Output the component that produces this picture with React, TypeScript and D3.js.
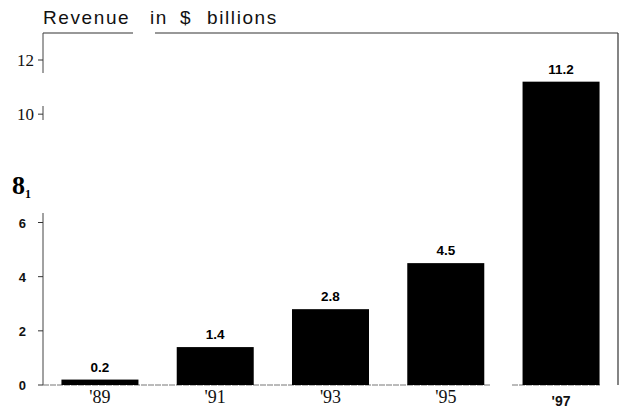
import { useEffect, useRef } from "react"
import * as d3 from "d3"

const years = ["'89", "'91", "'93", "'95", "'97"]
const revenue = [0.2, 1.4, 2.8, 4.5, 11.2]
const valueLabels = ["0.2", "1.4", "2.8", "4.5", "11.2"]
const serifTicks = [12, 10]
const sansTicks = [6, 4, 2, 0]
const titleWords = ["Revenue", "in", "$", "billions"]

const W = 622
const H = 412
const SANS = "'Liberation Sans', Arial, sans-serif"
const SERIF = "'Liberation Serif', 'Times New Roman', serif"

export default function App() {
  const svgRef = useRef<SVGSVGElement>(null)

  useEffect(() => {
    const svg = d3.select(svgRef.current!)
    svg.selectAll("*").remove()

    const left = 43
    const right = 618
    const top = 33
    const x = d3.scaleBand<string>().domain(years).range([left, right]).paddingInner(0.332).paddingOuter(0.16)
    const y = d3.scaleLinear().domain([0, 12]).range([385, 60])
    const y0 = y(0)

    // title, words spread out like the scan
    const wordX = [43, 150, 180, 207]
    svg
      .append("g")
      .selectAll("text")
      .data(titleWords)
      .enter()
      .append("text")
      .attr("x", (_, i) => wordX[i])
      .attr("y", 24)
      .attr("font-family", SANS)
      .attr("font-size", 19)
      .attr("letter-spacing", 1.6)
      .attr("fill", "#111")
      .text((d) => d)

    // frame: top (broken), right
    const frame = svg.append("g").attr("stroke", "#333").attr("stroke-width", 1.2).attr("fill", "none")
    frame.append("line").attr("x1", left).attr("x2", 133).attr("y1", top).attr("y2", top)
    frame.append("line").attr("x1", 155).attr("x2", right).attr("y1", top).attr("y2", top)
    frame.append("line").attr("x1", right).attr("x2", right).attr("y1", top).attr("y2", y0)

    // left axis, broken
    const axisSegs: [number, number][] = [
      [top, 73],
      [106, 120],
      [213, y0],
    ]
    svg
      .append("g")
      .selectAll("line")
      .data(axisSegs)
      .enter()
      .append("line")
      .attr("x1", left)
      .attr("x2", left)
      .attr("y1", (d) => d[0])
      .attr("y2", (d) => d[1])
      .attr("stroke", "#444")
      .attr("stroke-width", 1)

    // ticks
    const allTicks = [...serifTicks, ...sansTicks]
    svg
      .append("g")
      .selectAll("line")
      .data(allTicks)
      .enter()
      .append("line")
      .attr("x1", left - 5)
      .attr("x2", left)
      .attr("y1", (d) => y(d))
      .attr("y2", (d) => y(d))
      .attr("stroke", "#333")
      .attr("stroke-width", 1)

    svg
      .append("g")
      .selectAll("text")
      .data(serifTicks)
      .enter()
      .append("text")
      .attr("x", 34)
      .attr("y", (d) => y(d) + 5.5)
      .attr("text-anchor", "end")
      .attr("font-family", SERIF)
      .attr("font-size", 17)
      .attr("fill", "#111")
      .text((d) => d)

    svg
      .append("g")
      .selectAll("text")
      .data(sansTicks)
      .enter()
      .append("text")
      .attr("x", 26)
      .attr("y", (d) => y(d) + 5)
      .attr("text-anchor", "end")
      .attr("font-family", SANS)
      .attr("font-weight", "bold")
      .attr("font-size", 13)
      .attr("fill", "#111")
      .text((d) => d)

    // odd "8" label from the scan
    const eight = svg
      .append("text")
      .attr("x", 12)
      .attr("y", y(8) + 26)
      .attr("font-family", SERIF)
      .attr("font-weight", "bold")
      .attr("font-size", 26)
      .attr("fill", "#000")
    eight.append("tspan").attr("fill", "#000").text("8")
    eight
      .append("tspan")
      .attr("fill", "#000")
      .attr("font-size", 12)
      .attr("font-weight", "bold")
      .attr("dy", 4)
      .text("1")

    // baseline (broken)
    const base = svg.append("g").attr("stroke", "#777").attr("stroke-width", 1).attr("stroke-dasharray", "6 1")
    base.append("line").attr("x1", left).attr("x2", 490).attr("y1", y0).attr("y2", y0)
    base.append("line").attr("x1", 512).attr("x2", 600).attr("y1", y0).attr("y2", y0)

    // bars
    svg
      .append("g")
      .selectAll("rect")
      .data(revenue)
      .enter()
      .append("rect")
      .attr("x", (_, i) => x(years[i])!)
      .attr("y", (d) => y(d))
      .attr("width", x.bandwidth())
      .attr("height", (d) => y0 - y(d))
      .attr("fill", "#000")

    // value labels
    svg
      .append("g")
      .selectAll("text")
      .data(revenue)
      .enter()
      .append("text")
      .attr("x", (_, i) => x(years[i])! + x.bandwidth() / 2)
      .attr("y", (d) => y(d) - 8)
      .attr("text-anchor", "middle")
      .attr("font-family", SANS)
      .attr("font-weight", "bold")
      .attr("font-size", 13.5)
      .attr("fill", "#000")
      .text((_, i) => valueLabels[i])

    // year labels
    const last = years.length - 1
    svg
      .append("g")
      .selectAll("text")
      .data(years)
      .enter()
      .append("text")
      .attr("x", (d) => x(d)! + x.bandwidth() / 2)
      .attr("y", (_, i) => (i === last ? 406 : 403))
      .attr("text-anchor", "middle")
      .attr("font-family", (_, i) => (i === last ? SANS : SERIF))
      .attr("font-weight", (_, i) => (i === last ? "bold" : "normal"))
      .attr("font-size", (_, i) => (i === last ? 14 : 18))
      .attr("fill", "#111")
      .text((d) => d)
  }, [])

  return (
    <svg
      ref={svgRef}
      width={W}
      height={H}
      style={{ position: "absolute", left: 0, top: 0, background: "#fff" }}
    />
  )
}
